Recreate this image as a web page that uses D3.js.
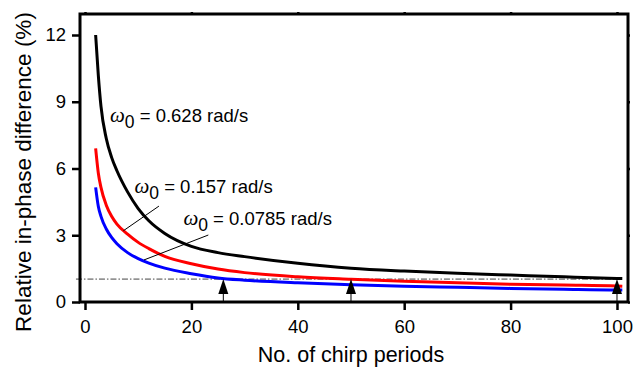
<!DOCTYPE html>
<html><head><meta charset="utf-8">
<script src="https://cdn.jsdelivr.net/npm/d3@7"></script>
<style>body{margin:0;background:#fff}svg{display:block}</style>
</head><body>
<svg id="chart" width="634" height="370"></svg>
<script>
// ---- data ----
const periods = [2, 2.5, 3, 4, 5, 6, 8, 10, 12, 15, 20, 25, 30, 40, 50, 60, 70, 80, 90, 100, 101];
const diff0628 = [12.0, 10.2, 8.8, 7.35, 6.5, 5.9, 4.95, 4.2, 3.65, 3.08, 2.5, 2.22, 2.04, 1.74, 1.52, 1.39, 1.29, 1.21, 1.13, 1.06, 1.055];
const diff0157 = [6.9, 5.8, 5.15, 4.35, 3.85, 3.5, 3.05, 2.68, 2.4, 2.05, 1.72, 1.48, 1.32, 1.13, 1.02, 0.93, 0.86, 0.80, 0.76, 0.72, 0.71];
const diff00785 = [5.15, 4.3, 3.85, 3.28, 2.9, 2.62, 2.22, 1.95, 1.75, 1.52, 1.27, 1.08, 0.98, 0.86, 0.78, 0.71, 0.66, 0.61, 0.57, 0.54, 0.54];
const xTicks = [0, 20, 40, 60, 80, 100];
const yTicks = [0, 3, 6, 9, 12];
const threshold = 1.03;
const arrowPeriods = [26, 50, 100];
const seriesNames = ["0.628", "0.157", "0.0785"];

// ---- layout ----
const svg = d3.select("#chart");
const L = 80, R = 628, T = 14, B = 302;
const x = d3.scaleLinear().domain([-0.94, 102.07]).range([L, R]);
const y = d3.scaleLinear().domain([0, 12.944]).range([B, T]);
const SANS = "Liberation Sans, Arial, sans-serif";

const series = [
  {name: seriesNames[0], vals: diff0628, color: "#000000"},
  {name: seriesNames[1], vals: diff0157, color: "#ff0000"},
  {name: seriesNames[2], vals: diff00785, color: "#0000ff"}
];

// threshold dash-dot line
svg.append("line")
  .attr("x1", x(-1.7)).attr("x2", x(100))
  .attr("y1", y(threshold)).attr("y2", y(threshold))
  .attr("stroke", "#444").attr("stroke-width", 1)
  .attr("stroke-dasharray", "6,2,1.5,2");

// curves
const line = d3.line().x((d, i) => x(periods[i])).y(d => y(d)).curve(d3.curveMonotoneX);
series.slice().reverse().forEach(s => {
  svg.append("path").datum(s.vals)
    .attr("d", line)
    .attr("fill", "none").attr("stroke", s.color).attr("stroke-width", 3);
});

// arrows
arrowPeriods.forEach(p => {
  const ax = x(p), tip = y(threshold);
  svg.append("line").attr("x1", ax).attr("x2", ax).attr("y1", B).attr("y2", tip + 12)
    .attr("stroke", "#000").attr("stroke-width", 1);
  svg.append("path")
    .attr("d", `M${ax},${tip} L${ax - 5},${tip + 15} L${ax + 5},${tip + 15} Z`)
    .attr("fill", "#000");
});

// axes
const xAxis = svg.append("g").attr("transform", `translate(0,${B})`)
  .call(d3.axisBottom(x).tickValues(xTicks).tickSize(8).tickPadding(10).tickSizeOuter(0));
const yAxis = svg.append("g").attr("transform", `translate(${L},0)`)
  .call(d3.axisLeft(y).tickValues(yTicks).tickSize(8).tickPadding(6).tickSizeOuter(0));
const xTop = svg.append("g").attr("transform", `translate(0,${T})`)
  .call(d3.axisTop(x).tickValues(xTicks).tickSize(2).tickFormat("").tickSizeOuter(0));
const yRight = svg.append("g").attr("transform", `translate(${R},0)`)
  .call(d3.axisRight(y).tickValues(yTicks).tickSize(2).tickFormat("").tickSizeOuter(0));
[xAxis, yAxis, xTop, yRight].forEach(g => {
  g.select(".domain").remove();
  g.selectAll(".tick line").attr("stroke", "#000").attr("stroke-width", 2.5);
  g.selectAll("text").attr("font-family", SANS)
    .attr("font-size", 18.5).attr("fill", "#000");
});

// frame
svg.append("rect").attr("x", L).attr("y", T).attr("width", R - L).attr("height", B - T)
  .attr("fill", "none").attr("stroke", "#000").attr("stroke-width", 3);

// axis titles
svg.append("text").attr("x", (x(0) + x(100)) / 2).attr("y", 362)
  .attr("text-anchor", "middle").attr("font-family", SANS)
  .attr("font-size", 21.5).text("No. of chirp periods");
svg.append("text").attr("transform", `translate(31,172) rotate(-90)`)
  .attr("text-anchor", "middle").attr("font-family", SANS)
  .attr("font-size", 22.5).text("Relative in-phase difference (%)");

// curve labels
const labels = [
  {name: seriesNames[0], n: 4.7, v: 8.1},
  {name: seriesNames[1], n: 9.3, v: 4.89},
  {name: seriesNames[2], n: 18.5, v: 3.46}
];
labels.forEach(l => {
  const t = svg.append("text").attr("x", x(l.n)).attr("y", y(l.v))
    .attr("font-family", SANS).attr("font-size", 18.5);
  t.append("tspan").attr("font-family", "Liberation Serif, Times New Roman, serif")
    .attr("font-style", "italic").attr("font-size", 21).text("ω");
  t.append("tspan").attr("dy", 6).attr("font-size", 17.5).text("0");
  t.append("tspan").attr("dy", -6).text(" = " + l.name + " rad/s");
});

// leader lines
const leaders = [
  {n1: 7.2, v1: 3.2, n2: 13.9, v2: 4.31},
  {n1: 11.09, v1: 1.89, n2: 23.18, v2: 3.01}
];
leaders.forEach(d => {
  svg.append("line").attr("x1", x(d.n1)).attr("y1", y(d.v1))
    .attr("x2", x(d.n2)).attr("y2", y(d.v2))
    .attr("stroke", "#000").attr("stroke-width", 1);
});
</script>
</body></html>
